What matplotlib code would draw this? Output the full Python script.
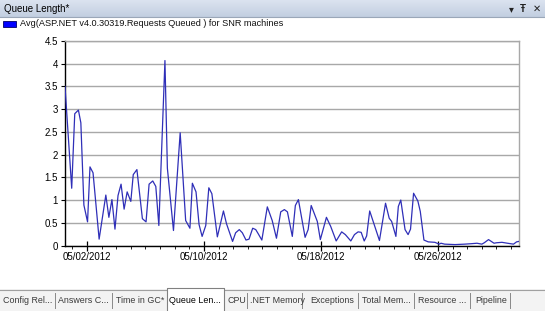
import numpy as np
import pandas as pd
import matplotlib
matplotlib.use("Agg")
import matplotlib.pyplot as plt
import matplotlib.dates as mdates
from matplotlib.patches import Rectangle

plt.rcParams['font.family'] = ['Liberation Sans', 'DejaVu Sans']

# data: hours since 2012-05-01 00:00, and queue length
hours = [-12, -1, 4, 10, 14, 19, 25, 29, 34, 44, 55, 60, 65, 70, 75, 80, 85, 90,
         96, 100, 106, 115, 121, 126, 132, 137, 142, 152, 156, 166, 177, 186,
         193, 197, 203, 208, 213, 219, 224, 229, 238, 248, 253, 263, 268, 274,
         279, 285, 290, 296, 301, 305, 311, 320, 328, 335, 342, 348, 353, 361,
         366, 371, 382, 387, 392, 402, 407, 417, 424, 433, 442, 448, 457, 463,
         469, 474, 479, 483, 488, 504, 514, 520, 524, 531, 535, 539, 546, 551,
         555, 560, 567, 571, 577, 584, 595, 602, 605, 611, 628, 644, 655, 664,
         672, 676, 683, 692, 696, 705, 714, 724, 729, 733]
values = [3.5, 1.26, 2.9, 2.98, 2.7, 0.89, 0.52, 1.73, 1.6, 0.14, 1.11, 0.62,
          1.01, 0.36, 1.1, 1.35, 0.8, 1.18, 0.97, 1.56, 1.67, 0.59, 0.52, 1.35,
          1.42, 1.3, 0.44, 4.07, 1.7, 0.33, 2.48, 0.55, 0.38, 1.37, 1.18, 0.46,
          0.2, 0.44, 1.27, 1.14, 0.19, 0.76, 0.48, 0.09, 0.28, 0.35, 0.28, 0.12,
          0.14, 0.38, 0.35, 0.26, 0.12, 0.85, 0.55, 0.16, 0.74, 0.79, 0.74, 0.2,
          0.88, 1.01, 0.18, 0.35, 0.88, 0.53, 0.13, 0.62, 0.42, 0.1, 0.3, 0.24,
          0.1, 0.24, 0.3, 0.29, 0.1, 0.21, 0.76, 0.11, 0.93, 0.6, 0.53, 0.2,
          0.86, 1.0, 0.35, 0.24, 0.36, 1.15, 0.98, 0.75, 0.12, 0.08, 0.07, 0.03,
          0.05, 0.03, 0.02, 0.03, 0.04, 0.05, 0.03, 0.06, 0.13, 0.05, 0.06, 0.07,
          0.05, 0.03, 0.08, 0.09]

series_name = "Avg(ASP.NET v4.0.30319.Requests Queued ) for SNR machines"
window_title = "Queue Length*"
tabs = ["Config Rel...", "Answers C...", "Time in GC*", "Queue Len...", "CPU",
        ".NET Memory", "Exceptions", "Total Mem...", "Resource ...", "Pipeline"]
active_tab = "Queue Len..."

base = pd.Timestamp("2012-05-01")
times = [base + pd.Timedelta(hours=h) for h in hours]

W, H = 545, 311
fig = plt.figure(figsize=(W / 100, H / 100), dpi=100)
fig.patch.set_facecolor('white')

# chrome layer in pixel coords
ui = fig.add_axes([0, 0, 1, 1], zorder=0)
ui.set_xlim(0, W)
ui.set_ylim(H, 0)
ui.axis('off')

# title bar gradient
grad = np.linspace(0, 1, 32).reshape(-1, 1)
top_c = np.array([0.86, 0.89, 0.94])
bot_c = np.array([0.76, 0.81, 0.88])
img = top_c + (bot_c - top_c) * grad[..., None]
ui.imshow(img, extent=(0, W, 17, 0), aspect='auto', zorder=1)
ui.plot([0, W], [17, 17], color='#9aa7b8', lw=0.8, zorder=2)
ui.text(4, 8.5, window_title, fontsize=7, va='center', ha='left', color='black', zorder=3)
ui.text(511, 9, "▾", fontsize=7, va='center', ha='center', color='#222222', zorder=3)
ui.text(523, 8.5, "Ŧ", fontsize=7, va='center', ha='center', color='#222222',
        fontweight='bold', zorder=3)
ui.text(537, 8.5, "✕", fontsize=7, va='center', ha='center', color='#222222',
        fontweight='bold', family='DejaVu Sans', zorder=3)

# legend
ui.add_patch(Rectangle((3, 20.5), 12.5, 6.5, facecolor='#0000ff', edgecolor='#000066',
                       lw=0.6, zorder=3))
ui.text(20, 24, series_name, fontsize=6.6, va='center', ha='left', color='#111111', zorder=3)

# tab strip
ui.add_patch(Rectangle((0, 289), W, H - 289, facecolor='#f3f3f3', edgecolor='none', zorder=1))
ui.plot([0, W], [289.5, 289.5], color='#a0a0a0', lw=0.8, zorder=2)
tab_x = [3, 58, 116, 169, 228, 250, 310, 362, 418, 475]
sep_x = [55, 112, 247, 302, 358, 414, 470, 510]
for lbl, x in zip(tabs, tab_x):
    ui.text(x, 300.5, lbl, fontsize=6.4, va='center', ha='left',
            color='black' if lbl == active_tab else '#3a3a3a', zorder=4)
for x in sep_x:
    ui.plot([x, x], [293, 308], color='#888888', lw=0.7, zorder=2)
ui.add_patch(Rectangle((167, 288), 57, H - 288, facecolor='white', edgecolor='none', zorder=3))
ui.plot([167, 167, 224, 224], [H, 288, 288, H], color='#808080', lw=0.8, zorder=3)

# chart
left, right = 65 / W, 519 / W
bottom, top = 1 - 245.5 / H, 1 - 41 / H
ax = fig.add_axes([left, bottom, right - left, top - bottom], zorder=2)
ax.set_facecolor('white')
ax.plot(times, values, color='#2f2fb8', lw=0.9, zorder=3)

ax.set_ylim(0, 4.5)
ax.set_xlim(base + pd.Timedelta(hours=-12), base + pd.Timedelta(hours=733))
ax.set_yticks(np.arange(0, 4.51, 0.5))
ax.set_yticklabels([f"{v:g}" for v in np.arange(0, 4.51, 0.5)])
ax.yaxis.grid(True, color='#a8a8a8', lw=1.0)
ax.set_axisbelow(True)

ax.xaxis.set_major_locator(mdates.DayLocator(bymonthday=[2, 10, 18, 26]))
ax.xaxis.set_minor_locator(mdates.DayLocator())
ax.xaxis.set_major_formatter(mdates.DateFormatter('%m/%d/%Y'))

ax.tick_params(axis='y', labelsize=7, length=3, width=0.8, pad=2, colors='black')
ax.tick_params(axis='x', which='major', labelsize=7, direction='inout', length=7,
               width=0.9, pad=1)
ax.tick_params(axis='x', which='minor', direction='out', length=2.5, width=0.6)

for s in ['top', 'right']:
    ax.spines[s].set_color('#a8a8a8')
    ax.spines[s].set_linewidth(1.0)
for s in ['left', 'bottom']:
    ax.spines[s].set_color('black')
    ax.spines[s].set_linewidth(1.0)

fig.savefig('out.png', dpi=100)
